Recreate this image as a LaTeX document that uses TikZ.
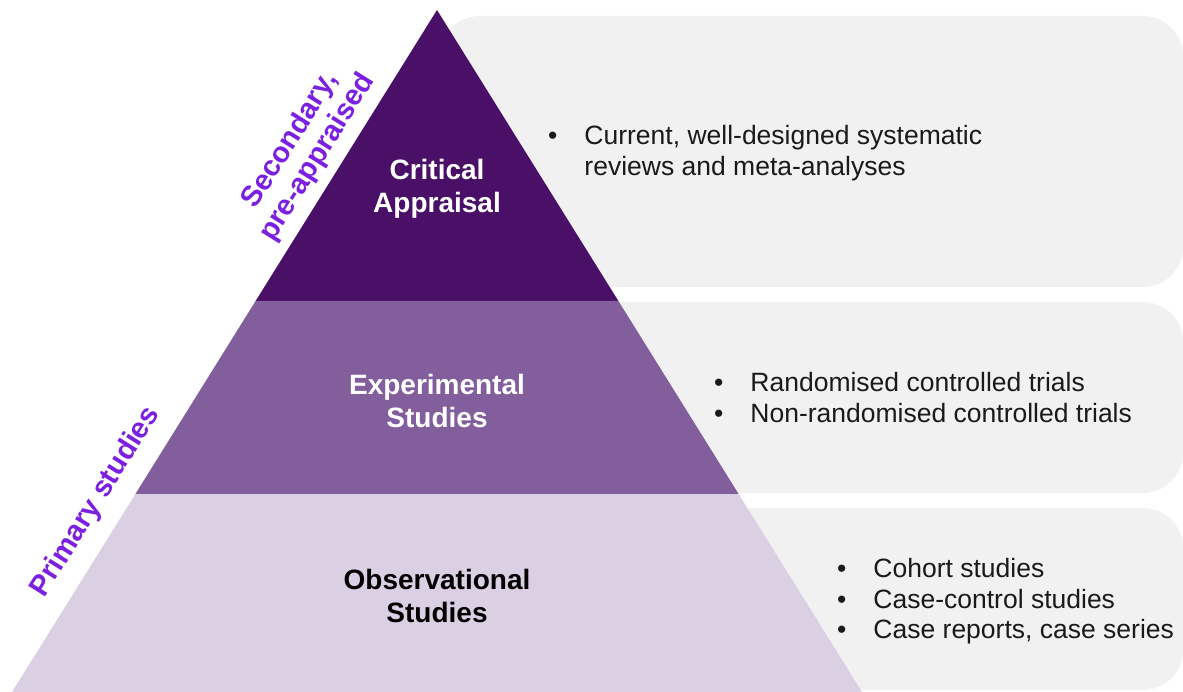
\documentclass[tikz,border=0pt]{standalone}
\usepackage{fontspec}
\setmainfont{Liberation Sans}
\definecolor{topc}{HTML}{4A1068}
\definecolor{midc}{HTML}{835E9C}
\definecolor{botc}{HTML}{DBCFE3}
\definecolor{panelc}{HTML}{F1F1F1}
\definecolor{sidec}{HTML}{7B1FE0}
\definecolor{txtc}{HTML}{1A1A1A}
\begin{document}
\begin{tikzpicture}[x=1pt,y=-1pt,
  panel/.style={fill=panelc,rounded corners=40pt},
  level/.style={font=\fontsize{28}{33}\selectfont\bfseries,align=center,inner sep=0pt},
  bullets/.style={font=\fontsize{26.5}{30.5}\selectfont,text=txtc,anchor=west,inner sep=0pt},
  side/.style={font=\fontsize{29}{32}\selectfont\bfseries,text=sidec,align=center,rotate=58,inner sep=0pt}]
\useasboundingbox (0,0) rectangle (1183,692);
% panels
\path[panel] (440,16) rectangle (1183,287);
\path[panel] (440,302) rectangle (1183,493);
\path[panel] (440,508) rectangle (1183,690);
% pyramid
\coordinate (apex) at (437,10);
\coordinate (l1) at (255.6,301);
\coordinate (r1) at (618.4,301);
\coordinate (l2) at (135.4,494);
\coordinate (r2) at (738.6,494);
\coordinate (l3) at (12,692);
\coordinate (r3) at (862,692);
\fill[topc] (apex) -- (r1) -- (l1) -- cycle;
\fill[midc] (l1) -- (r1) -- (r2) -- (l2) -- cycle;
\fill[botc] (l2) -- (r2) -- (r3) -- (l3) -- cycle;
% level labels
\node[level,text=white] (crit) at (437,188.5) {Critical\\Appraisal};
\node[level,text=white] (exp) at (437,401) {Experimental\\Studies};
\node[level,text=black] (obs) at (437,596) {Observational\\Studies};
% bullet lists
\node[bullets] (b1) at (548,154) {\begin{tabular}{@{}l@{\hspace{27pt}}l@{}}\textbullet & Current, well-designed systematic\\ & reviews and meta-analyses\end{tabular}};
\node[bullets] (b2) at (714,401) {\begin{tabular}{@{}l@{\hspace{27pt}}l@{}}\textbullet & Randomised controlled trials\\ \textbullet & Non-randomised controlled trials\end{tabular}};
\node[bullets] (b3) at (837,602) {\begin{tabular}{@{}l@{\hspace{27pt}}l@{}}\textbullet & Cohort studies\\ \textbullet & Case-control studies\\ \textbullet & Case reports, case series\end{tabular}};
% side labels
\node[side] (sec) at (304,149) {Secondary,\\pre-appraised};
\node[side] (prim) at (96,502) {Primary studies};
\end{tikzpicture}
\end{document}
